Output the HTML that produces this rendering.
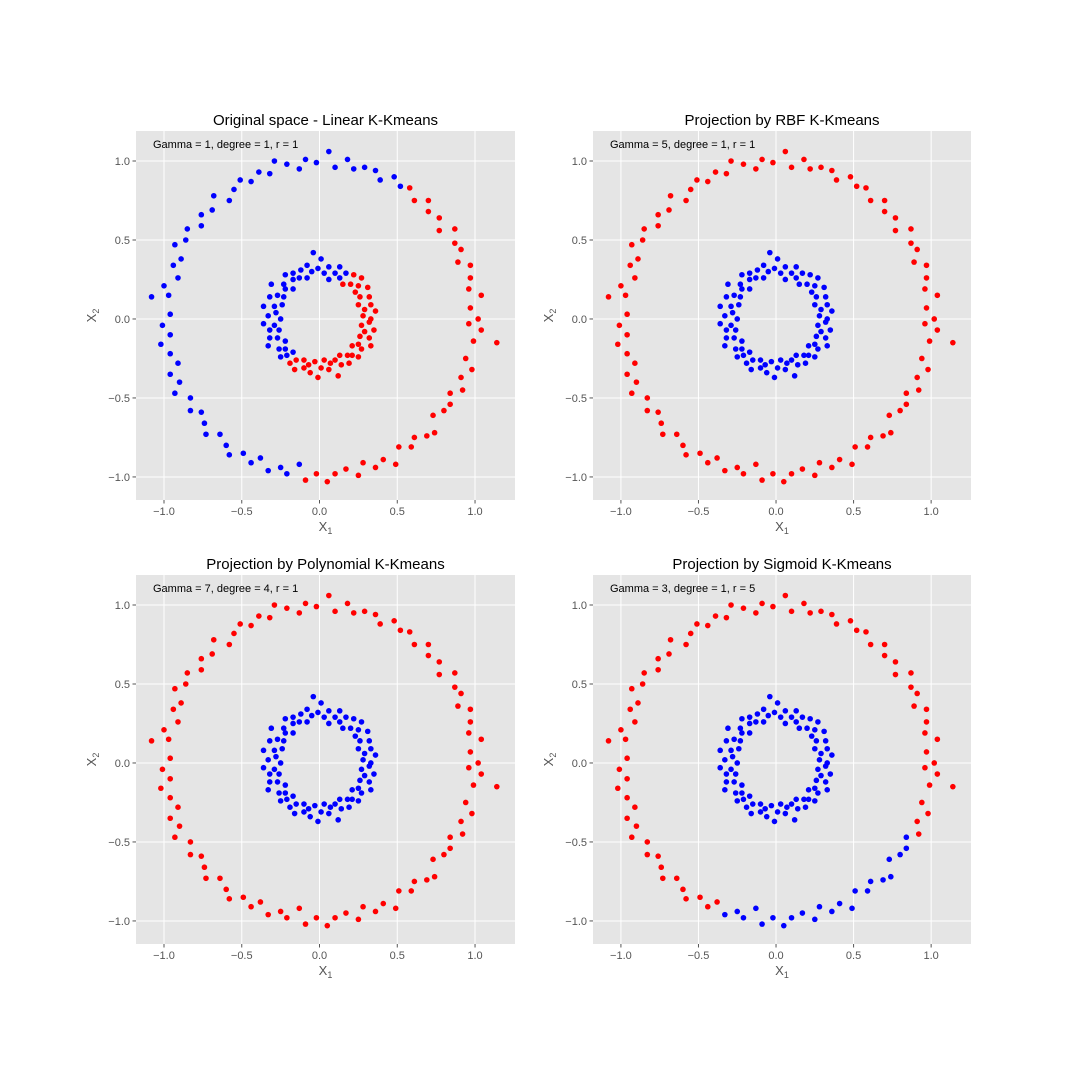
<!DOCTYPE html>
<html><head><meta charset="utf-8"><style>
body{margin:0;background:#fff}
svg{display:block;font-family:"Liberation Sans","DejaVu Sans",sans-serif}
</style></head><body>
<svg id="fig" width="1080" height="1080" viewBox="0 0 1080 1080"></svg>
<script>
const outerX=[1.02,0.97,1.04,0.96,0.97,0.97,0.89,0.91,0.87,0.87,0.77,0.77,0.70,0.70,0.61,0.58,0.52,0.48,0.39,0.36,0.29,0.22,0.18,0.10,0.06,-0.02,-0.09,-0.13,-0.21,-0.29,-0.32,-0.39,-0.44,-0.51,-0.55,-0.58,-0.68,-0.69,-0.76,-0.76,-0.85,-0.86,-0.93,-0.89,-0.94,-0.91,-1.00,-0.97,-1.08,-0.96,-1.01,-0.96,-1.02,-0.96,-0.91,-0.96,-0.90,-0.93,-0.83,-0.83,-0.76,-0.74,-0.73,-0.64,-0.60,-0.58,-0.49,-0.44,-0.38,-0.33,-0.25,-0.21,-0.13,-0.09,-0.02,0.05,0.10,0.17,0.25,0.28,0.36,0.41,0.49,0.51,0.59,0.61,0.69,0.74,0.73,0.80,0.84,0.84,0.92,0.91,0.98,0.94,1.14,0.99,1.04,0.96];
const outerY=[0.00,0.07,0.15,0.19,0.26,0.34,0.36,0.44,0.48,0.57,0.56,0.64,0.68,0.75,0.75,0.83,0.84,0.90,0.88,0.94,0.96,0.95,1.01,0.96,1.06,0.99,1.01,0.95,0.98,1.00,0.92,0.93,0.87,0.88,0.82,0.75,0.78,0.69,0.66,0.59,0.57,0.50,0.47,0.38,0.34,0.26,0.21,0.15,0.14,0.03,-0.04,-0.10,-0.16,-0.22,-0.28,-0.35,-0.40,-0.47,-0.50,-0.58,-0.59,-0.66,-0.73,-0.73,-0.80,-0.86,-0.85,-0.91,-0.88,-0.96,-0.94,-0.98,-0.92,-1.02,-0.98,-1.03,-0.98,-0.95,-0.99,-0.91,-0.94,-0.89,-0.92,-0.81,-0.81,-0.75,-0.74,-0.72,-0.61,-0.58,-0.54,-0.47,-0.45,-0.37,-0.32,-0.25,-0.15,-0.14,-0.07,-0.03];
const innerX=[0.33,0.28,0.36,0.29,0.33,0.25,0.32,0.26,0.31,0.23,0.25,0.27,0.20,0.22,0.15,0.17,0.13,0.13,0.10,0.06,0.06,0.03,0.01,-0.01,-0.04,-0.05,-0.08,-0.08,-0.12,-0.13,-0.17,-0.17,-0.22,-0.17,-0.23,-0.22,-0.31,-0.23,-0.27,-0.32,-0.24,-0.29,-0.36,-0.28,-0.33,-0.25,-0.36,-0.29,-0.32,-0.26,-0.32,-0.27,-0.33,-0.22,-0.26,-0.22,-0.25,-0.21,-0.17,-0.19,-0.15,-0.16,-0.10,-0.10,-0.07,-0.06,-0.03,-0.01,0.01,0.03,0.06,0.07,0.12,0.10,0.14,0.13,0.19,0.18,0.21,0.25,0.21,0.27,0.25,0.33,0.26,0.32,0.29,0.35,0.27,0.32];
const innerY=[0.00,0.02,0.05,0.06,0.09,0.09,0.14,0.14,0.20,0.17,0.21,0.26,0.22,0.28,0.22,0.29,0.26,0.33,0.29,0.25,0.33,0.29,0.38,0.32,0.42,0.30,0.34,0.26,0.31,0.26,0.29,0.25,0.28,0.19,0.22,0.19,0.22,0.14,0.15,0.14,0.09,0.08,0.08,0.04,0.02,0.00,-0.03,-0.04,-0.07,-0.07,-0.12,-0.12,-0.17,-0.14,-0.19,-0.19,-0.24,-0.23,-0.21,-0.28,-0.26,-0.32,-0.26,-0.31,-0.29,-0.34,-0.27,-0.37,-0.31,-0.26,-0.32,-0.28,-0.36,-0.26,-0.29,-0.23,-0.28,-0.23,-0.23,-0.24,-0.17,-0.19,-0.16,-0.17,-0.11,-0.12,-0.08,-0.07,-0.04,-0.02];
// labels: 1 = red, 0 = blue
const outerLab1="1111111111111111"+"000000000000000000000000000000000000000000000000000000000"+"111111111111111111111111111";
const innerLab1="111111111111111"+"00000000000000000000000000000000000000000000"+"1111111111111111111111111111111";
const outerLab2="1111111111111111111111111111111111111111111111111111111111111111111111111111111111111111111111111111";
const innerLab2="000000000000000000000000000000000000000000000000000000000000000000000000000000000000000000";
const outerLab3="1111111111111111111111111111111111111111111111111111111111111111111111111111111111111111111111111111";
const innerLab3="000000000000000000000000000000000000000000000000000000000000000000000000000000000000000000";
const outerLab4="111111111111111111111111111111111111111111111111111111111111111111111"+"00000000000000000000000"+"11111111";
const innerLab4="000000000000000000000000000000000000000000000000000000000000000000000000000000000000000000";
const titles=["Original space - Linear K-Kmeans","Projection by RBF K-Kmeans","Projection by Polynomial K-Kmeans","Projection by Sigmoid K-Kmeans"];
const notes=["Gamma = 1, degree = 1, r = 1","Gamma = 5, degree = 1, r = 1","Gamma = 7, degree = 4, r = 1","Gamma = 3, degree = 1, r = 5"];
const tickVals=[-1.0,-0.5,0.0,0.5,1.0];
const tickLabels=["\u22121.0","\u22120.5","0.0","0.5","1.0"];
const xDom=[-1.18,1.257], yDom=[-1.146,1.19];

const NS="http://www.w3.org/2000/svg";
const svg=document.getElementById('fig');
function mk(tag,attrs,parent){const e=document.createElementNS(NS,tag);for(const k in attrs)e.setAttribute(k,attrs[k]);(parent||svg).appendChild(e);return e;}
const boxes=[[136,131,379,369],[593,131,378,369],[136,575,379,369],[593,575,378,369]];
const labs=[[outerLab1,innerLab1],[outerLab2,innerLab2],[outerLab3,innerLab3],[outerLab4,innerLab4]];
boxes.forEach((b,i)=>{
  const [L,T,W,H]=b;
  const sx=v=>L+(v-xDom[0])/(xDom[1]-xDom[0])*W;
  const sy=v=>T+H-(v-yDom[0])/(yDom[1]-yDom[0])*H;
  const g=mk('g',{});
  
  
  const bg=mk('rect',{x:L,y:T,width:W,height:H,fill:'#e5e5e5'},g);
  
  
  tickVals.forEach((v,k)=>{
    const gx=mk('line',{x1:sx(v),x2:sx(v),y1:T,y2:T+H,stroke:'#fff','stroke-width':1},g);
    
    
    const gy=mk('line',{x1:L,x2:L+W,y1:sy(v),y2:sy(v),stroke:'#fff','stroke-width':1},g);
    
    
    mk('line',{x1:sx(v),x2:sx(v),y1:T+H,y2:T+H+3.5,stroke:'#555'},g);
    mk('line',{x1:L-3.5,x2:L,y1:sy(v),y2:sy(v),stroke:'#555'},g);
    const tx=mk('text',{x:sx(v),y:T+H+15,'font-size':11,fill:'#555','text-anchor':'middle'},g);
    tx.textContent=tickLabels[k];
    
    
    const ty=mk('text',{x:L-6,y:sy(v)+4,'font-size':11,fill:'#555','text-anchor':'end'},g);
    ty.textContent=tickLabels[k];
    
    
  });
  const t=mk('text',{x:L+W/2,y:T-6,'font-size':15,fill:'#000','text-anchor':'middle'},g);
  t.textContent=titles[i];
  
  
  const n=mk('text',{x:L+17,y:T+17,'font-size':11,fill:'#000'},g);
  n.textContent=notes[i];
  
  
  const xl=mk('text',{x:L+W/2,y:T+H+31,'font-size':13,fill:'#555','text-anchor':'middle'},g);
  xl.innerHTML='X<tspan font-size="9" dy="3">1</tspan>';
  
  
  const yl=mk('text',{x:0,y:0,'font-size':13,fill:'#555','text-anchor':'middle',transform:`translate(${L-40},${T+H/2}) rotate(-90)`},g);
  yl.innerHTML='X<tspan font-size="9" dy="3">2</tspan>';
  
  
  const [ol,il]=labs[i];
  const pts=[[outerX,outerY,ol],[innerX,innerY,il]];
  pts.forEach(([X,Y,lab])=>{
    X.forEach((x,j)=>{
      const c=mk('circle',{cx:sx(x),cy:sy(Y[j]),r:2.8,fill:lab[j]==='1'?'#ff0000':'#0000ff'},g);
      
      
    });
  });
});
</script>
</body></html>
